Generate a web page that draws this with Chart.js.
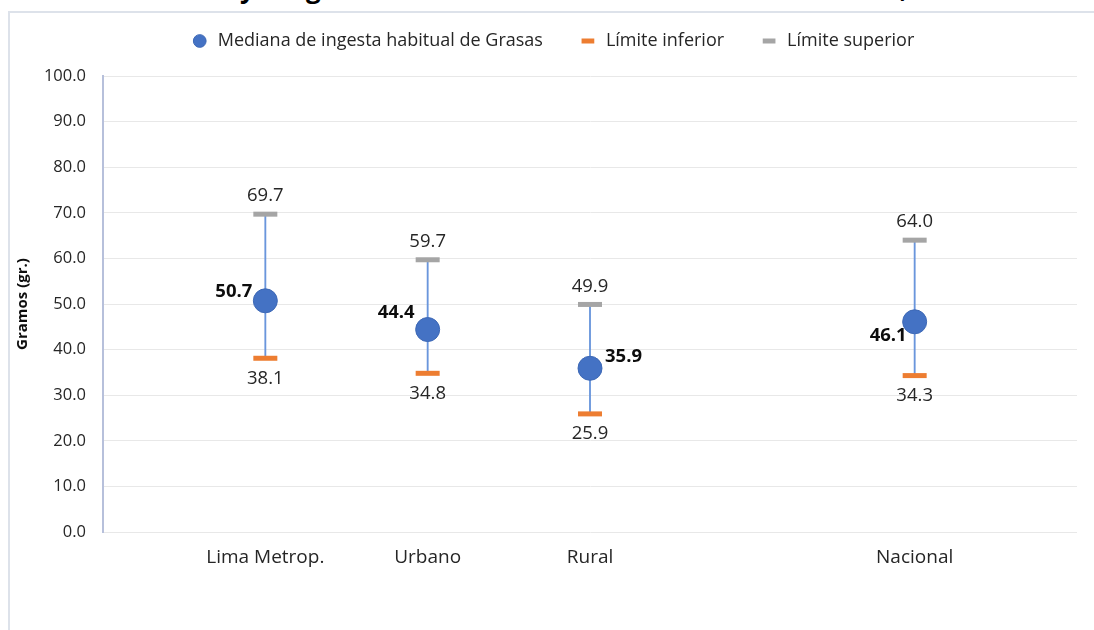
<!DOCTYPE html>
<html>
<head>
<meta charset="utf-8">
<script src="https://cdn.jsdelivr.net/npm/chart.js@4/dist/chart.umd.min.js"></script>
<style>
  html, body { margin: 0; padding: 0; background: #ffffff; overflow: hidden; }
  #frame { position: absolute; left: 8px; top: 11px; width: 1100px; height: 640px;
           border-left: 2px solid #dde2ea; border-top: 2px solid #dde2ea; }
  #title { position: absolute; left: 0; width: 1094px; top: -30px; text-align: center;
           font: bold 26px "Open Sans", sans-serif; color: #000; white-space: nowrap; }
  #wrap { position: absolute; left: 0; top: 0; width: 1094px; height: 630px; }
</style>
</head>
<body>
<div id="title">Mediana y rango de Grasas habitual en el área de residencia, 2019</div>
<div id="frame"></div>
<div id="wrap"><canvas id="c" width="1094" height="630"></canvas></div>
<script>
// ---- data ----
const categories = ['', 'Lima Metrop.', 'Urbano', 'Rural', '', 'Nacional', ''];
const medianValues = [null, 50.7, 44.4, 35.9, null, 46.1, null];
const lowerValues  = [null, 38.1, 34.8, 25.9, null, 34.3, null];
const upperValues  = [null, 69.7, 59.7, 49.9, null, 64.0, null];
const yTicks = [0, 10, 20, 30, 40, 50, 60, 70, 80, 90, 100];

const rangeValues = lowerValues.map((v, i) => (v === null ? null : [v, upperValues[i]]));

// label placement for median labels (align, dx, dy)
const medianLabelPlacement = [null,
  ['right', -13, -9], ['right', -13, -17], ['left', 15, -12], null, ['right', -8, 14], null];

const LEGEND_HEIGHT = 80;

const labelPlugin = {
  id: 'valueLabels',
  afterInit(chart) {
    const lg = chart.legend;
    if (lg && !lg._patched) {
      const orig = lg.fit.bind(lg);
      lg.fit = function () { orig(); this.height = LEGEND_HEIGHT; };
      lg._patched = true;
    }
  },
  afterLayout(chart) {
    const lg = chart.legend;
    if (lg) {
      lg.left += 8; lg.right += 8;
      if (lg.adjustHitBoxes) lg.adjustHitBoxes();
    }
  },
  afterDatasetsDraw(chart) {
    const ctx = chart.ctx;
    ctx.save();
    ctx.textBaseline = 'middle';
    chart.data.datasets.forEach((ds, di) => {
      if (!ds._labelKind) return;
      const meta = chart.getDatasetMeta(di);
      meta.data.forEach((el, i) => {
        const v = ds.data[i];
        if (v === null || v === undefined) return;
        const txt = v.toFixed(1);
        if (ds._labelKind === 'median') {
          const p = medianLabelPlacement[i];
          ctx.font = 'bold 18.5px "Open Sans", sans-serif';
          ctx.fillStyle = '#0d0d0d';
          ctx.textAlign = p[0];
          ctx.fillText(txt, el.x + p[1], el.y + p[2]);
        } else if (ds._labelKind === 'upper') {
          ctx.font = '18.5px "Open Sans", sans-serif';
          ctx.fillStyle = '#262626';
          ctx.textAlign = 'center';
          ctx.fillText(txt, el.x, el.y - 18);
        } else if (ds._labelKind === 'lower') {
          ctx.font = '18.5px "Open Sans", sans-serif';
          ctx.fillStyle = '#262626';
          ctx.textAlign = 'center';
          ctx.fillText(txt, el.x, el.y + 20);
        }
      });
    });
    ctx.restore();
  }
};

new Chart(document.getElementById('c'), {
  type: 'line',
  data: {
    labels: categories,
    datasets: [
      {
        label: 'Mediana de ingesta habitual de Grasas',
        data: medianValues,
        showLine: false,
        pointStyle: 'circle',
        pointRadius: 12,
        pointHoverRadius: 12,
        backgroundColor: '#4472c4',
        borderColor: '#3d68b5',
        borderWidth: 1,
        order: 1,
        _labelKind: 'median'
      },
      {
        label: 'Límite inferior',
        data: lowerValues,
        showLine: false,
        pointStyle: 'line',
        pointRadius: 12,
        pointHoverRadius: 12,
        backgroundColor: '#ed7d31',
        borderColor: '#ed7d31',
        borderWidth: 5,
        order: 2,
        _labelKind: 'lower'
      },
      {
        label: 'Límite superior',
        data: upperValues,
        showLine: false,
        pointStyle: 'line',
        pointRadius: 12,
        pointHoverRadius: 12,
        backgroundColor: '#a5a5a5',
        borderColor: '#a5a5a5',
        borderWidth: 5,
        order: 2,
        _labelKind: 'upper'
      },
      {
        type: 'bar',
        label: 'rango',
        data: rangeValues,
        barThickness: 1.2,
        backgroundColor: '#6a96dc',
        borderWidth: 0,
        order: 3
      }
    ]
  },
  options: {
    responsive: false,
    animation: false,
    layout: { padding: { left: 11, right: 16, top: -4, bottom: 0 } },
    plugins: {
      tooltip: { enabled: false },
      legend: {
        position: 'top',
        labels: {
          usePointStyle: true,
          boxHeight: 9,
          padding: 36,
          color: '#262626',
          font: { family: '"Open Sans", sans-serif', size: 18 },
          filter: (item) => item.text !== 'rango'
        }
      }
    },
    scales: {
      x: {
        type: 'category',
        offset: false,
        grid: { display: false, drawTicks: false },
        border: { display: false },
        ticks: {
          autoSkip: false,
          maxRotation: 0,
          padding: 14,
          color: '#262626',
          font: { family: '"Open Sans", sans-serif', size: 19 }
        },
        afterFit: (s) => { s.height = 98; }
      },
      y: {
        min: 0,
        max: 100,
        afterBuildTicks: (s) => { s.ticks = yTicks.map(v => ({ value: v })); },
        grid: { color: '#e8e8e8', lineWidth: 1, drawTicks: false },
        border: { display: true, color: '#b7c0db', width: 2 },
        ticks: {
          padding: 17,
          color: '#262626',
          font: { family: '"Open Sans", sans-serif', size: 16.5 },
          callback: (v) => Number(v).toFixed(1)
        },
        title: {
          display: true,
          text: 'Gramos (gr.)',
          color: '#0d0d0d',
          padding: { top: 3, bottom: 0 },
          font: { family: '"Open Sans", sans-serif', size: 15, weight: 'bold' }
        },
        afterFit: (s) => { s.width = 92; }
      }
    }
  },
  plugins: [labelPlugin]
});
</script>
</body>
</html>
